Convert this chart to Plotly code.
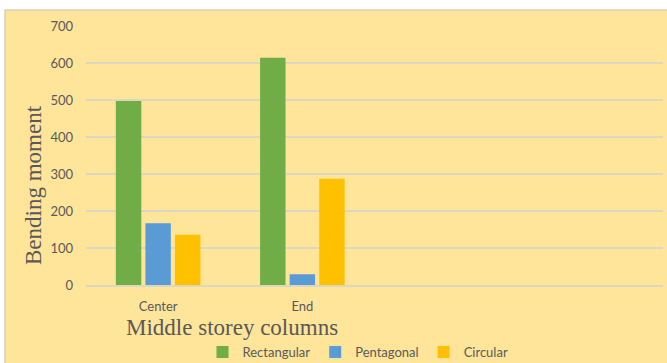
import plotly.graph_objects as go

# Data: bending moment in middle storey columns
categories = ["Center", "End"]
series_names = ["Rectangular", "Pentagonal", "Circular"]
rectangular = [497, 614]
pentagonal = [167, 29]
circular = [136, 287]
tick_values = [0, 100, 200, 300, 400, 500, 600, 700]

colors = ["#70AD47", "#5B9BD5", "#FFC000"]

W, H = 667, 363
ML, MR, MT, MB = 86, 4, 26, 78
PW, PH = W - ML - MR, H - MT - MB


def px_to_paper_x(px):
    return (px - ML) / PW


def px_to_paper_y(py):
    return (H - MB - py) / PH


fig = go.Figure()
for name, vals, col in zip(series_names, [rectangular, pentagonal, circular], colors):
    fig.add_trace(go.Bar(name=name, x=categories, y=vals,
                         marker=dict(color=col, line=dict(width=0))))

tick_font = dict(family="Lato, Carlito, sans-serif", size=13, color="#595959")
grid_col = "#DDD6C0"

fig.update_layout(
    width=W, height=H,
    margin=dict(l=ML, r=MR, t=MT, b=MB, autoexpand=False),
    paper_bgcolor="white",
    plot_bgcolor="rgba(0,0,0,0)",
    barmode="group",
    bargap=0.385,
    bargroupgap=0.14,
    showlegend=True,
    legend=dict(orientation="h", x=px_to_paper_x(358), xanchor="center",
                y=px_to_paper_y(352), yanchor="middle",
                font=tick_font, bgcolor="rgba(0,0,0,0)",
                traceorder="normal", itemwidth=30),
    xaxis=dict(type="category", range=[-0.5, 3.5], showgrid=False,
               showline=True, linecolor=grid_col, linewidth=1.5,
               ticks="", tickfont=tick_font, ticklabelstandoff=9,
               zeroline=False, fixedrange=True),
    yaxis=dict(range=[0, 700], tickvals=tick_values, showgrid=True,
               gridcolor=grid_col, gridwidth=1.5, showline=False,
               zeroline=False, ticks="", tickfont=tick_font,
               ticklabelstandoff=12, fixedrange=True),
    shapes=[dict(type="rect", xref="paper", yref="paper", layer="below",
                 x0=px_to_paper_x(5), x1=px_to_paper_x(669),
                 y0=px_to_paper_y(365), y1=px_to_paper_y(10),
                 fillcolor="#FEE599", line=dict(color="#D9D1B8", width=1.5))],
    annotations=[
        dict(text="Bending moment", xref="paper", yref="paper",
             x=px_to_paper_x(33), y=px_to_paper_y(185),
             xanchor="center", yanchor="middle", textangle=-90, showarrow=False,
             font=dict(family="Liberation Serif, Times New Roman, serif",
                       size=23, color="#595959")),
        dict(text="Middle storey columns", xref="paper", yref="paper",
             x=px_to_paper_x(232), y=px_to_paper_y(327),
             xanchor="center", yanchor="middle", showarrow=False,
             font=dict(family="Liberation Serif, Times New Roman, serif",
                       size=23, color="#595959")),
    ],
)

fig.write_html("out.html")
